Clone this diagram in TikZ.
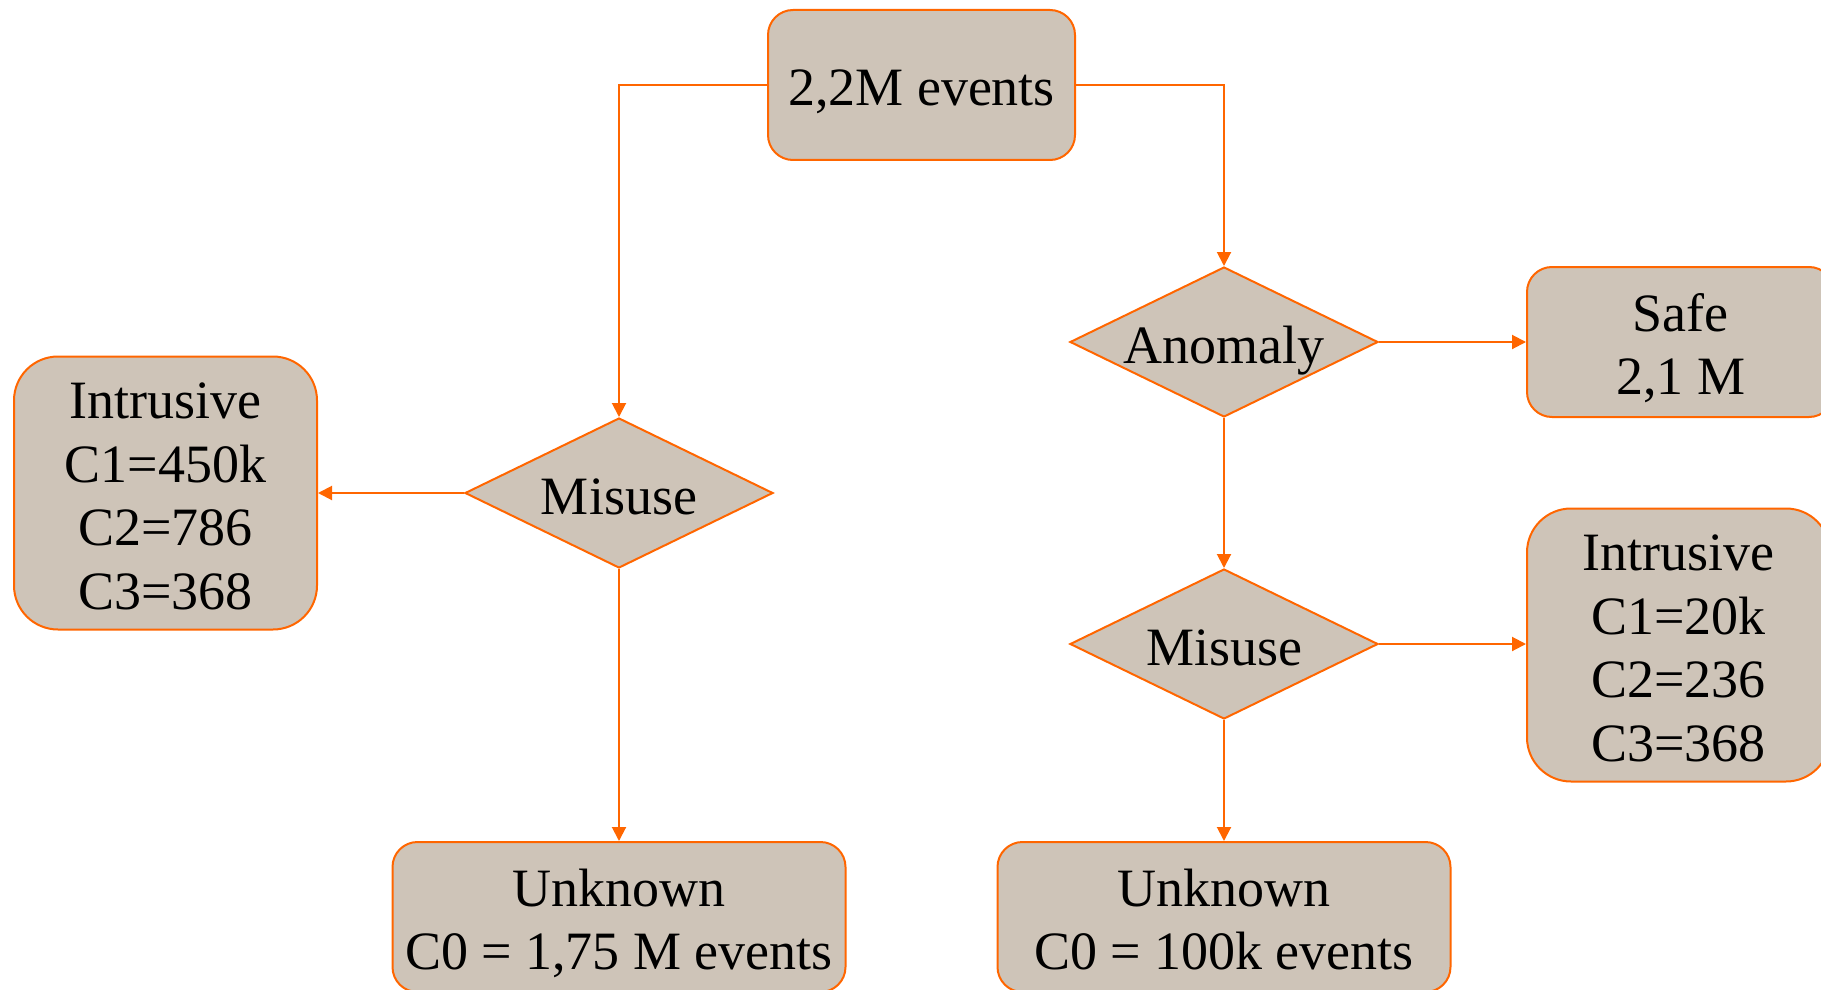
\documentclass[tikz,border=0pt]{standalone}
\usepackage{fontspec}
\setmainfont{Liberation Serif}
\usetikzlibrary{shapes.geometric,arrows.meta}
\definecolor{boxfill}{RGB}{206,196,184}
\definecolor{edge}{RGB}{255,102,0}
% invisible rules that fix the height of the first line and the depth of the last,
% so the text block sits slightly below the middle of its box
\newcommand\upstrut{\rule{0pt}{29pt}}
\newcommand\downstrut{\rule[-8pt]{0pt}{8pt}}
\begin{document}
\begin{tikzpicture}[x=0.5pt,y=-0.5pt,
  every node/.style={font=\fontsize{27}{31.75}\selectfont, align=center, inner sep=0pt},
  box/.style={draw=edge, fill=boxfill, line width=1pt, rounded corners=12.5pt,
    minimum width=153.5pt, minimum height=75pt},
  bigbox/.style={box, rounded corners=22pt, minimum width=151.5pt, minimum height=136.5pt},
  wide/.style={box, minimum width=226.5pt},
  decision/.style={diamond, draw=edge, fill=boxfill, line width=1pt, aspect=2.06,
    minimum width=154pt, minimum height=75pt, text height=21pt, text depth=0pt},
  arr/.style={draw=edge, line width=1pt, -{Triangle[length=7pt,width=7pt]}}]
\clip (0,0) rectangle (1821,990);
\fill[white] (0,0) rectangle (1821,990);

% boxes and decisions
\node[box] (top) at (921.5,85) {\upstrut 2,2M events\downstrut};
\node[decision] (misL) at (619,493) {Misuse};
\node[bigbox] (intL) at (165.5,493) {\upstrut Intrusive\\C1=450k\\C2=786\\C3=368\downstrut};
\node[wide] (unkL) at (619,917) {\upstrut Unknown\\C0 = 1,75 M events\downstrut};
\node[decision] (anom) at (1224,342) {Anomaly};
\node[box] (safe) at (1680.5,342) {\upstrut Safe\\2,1 M\downstrut};
\node[decision] (misR) at (1224,644) {Misuse};
\node[bigbox] (intR) at (1678.5,645) {\upstrut Intrusive\\C1=20k\\C2=236\\C3=368\downstrut};
\node[wide] (unkR) at (1224,917) {\upstrut Unknown\\C0 = 100k events\downstrut};

% connectors
\draw[arr] (top.west) -| (misL.north);
\draw[arr] (top.east) -| (anom.north);
\draw[arr] (misL.west) -- (intL.east);
\draw[arr] (misL.south) -- (unkL.north);
\draw[arr] (anom.east) -- (anom.east -| safe.west);
\draw[arr] (anom.south) -- (misR.north);
\draw[arr] (misR.east) -- (misR.east -| intR.west);
\draw[arr] (misR.south) -- (unkR.north);
\end{tikzpicture}
\end{document}
